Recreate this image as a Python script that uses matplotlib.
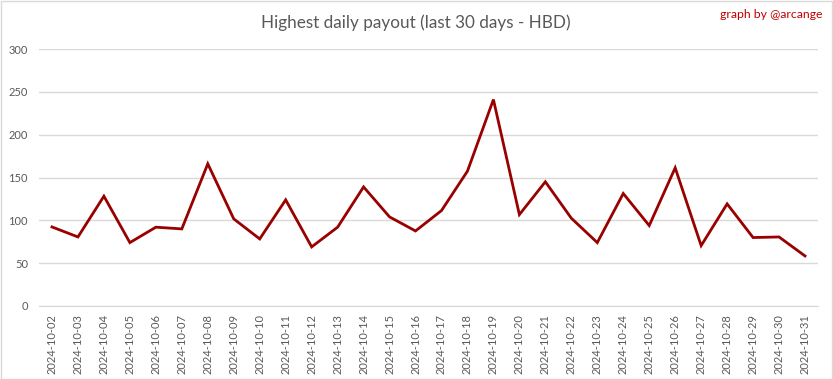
import matplotlib
matplotlib.use("Agg")
import matplotlib.pyplot as plt
from matplotlib.patches import Rectangle

dates = ["2024-10-%02d" % d for d in range(2, 32)]
payout = [92.3, 80.6, 128.2, 74.0, 92.0, 90.0, 166.0, 101.7, 78.3, 123.9,
          69.0, 92.0, 139.0, 104.0, 87.6, 111.4, 157.4, 241.0, 106.7, 145.0,
          102.5, 74.0, 131.3, 93.9, 161.3, 70.5, 119.2, 79.9, 80.6, 58.4]
yticks = [0, 50, 100, 150, 200, 250, 300]

plt.rcParams['font.family'] = ['Lato', 'DejaVu Sans']

W, H = 833, 379
fig = plt.figure(figsize=(W / 100, H / 100), dpi=100)
fig.patch.set_facecolor('white')
fig.patches.append(Rectangle((0.5 / W, 0.5 / H), 1 - 1.5 / W, 1 - 1.5 / H,
                             transform=fig.transFigure, fill=False,
                             edgecolor='#d9d9d9', linewidth=1))

ax = fig.add_axes([39 / W, (H - 306) / H, (818 - 39) / W, (306 - 49) / H])
x = list(range(len(dates)))
ax.plot(x, payout, color='#990000', linewidth=2, solid_joinstyle='miter')
ax.set_xlim(-0.5, len(dates) - 0.5)
ax.set_ylim(0, 300)
ax.set_yticks(yticks)
ax.set_yticklabels([str(v) for v in yticks])
ax.set_xticks(x)
ax.set_xticklabels(dates, rotation=90)
ax.grid(axis='y', color='#d9d9d9', linewidth=1)
ax.set_axisbelow(True)
for s in ['top', 'right', 'left']:
    ax.spines[s].set_visible(False)
ax.spines['bottom'].set_color('#d9d9d9')
ax.tick_params(axis='both', length=0, colors='#595959', labelsize=8)
ax.tick_params(axis='y', pad=8)
ax.tick_params(axis='x', pad=6)

fig.text(416 / W, 1 - 23 / H, "Highest daily payout (last 30 days - HBD)",
         ha='center', va='center', fontsize=12.3, color='#595959')
fig.text(822 / W, 1 - 15 / H, "graph by @arcange", ha='right', va='center',
         fontsize=8.8, color='#c00000')

fig.savefig("out.png", dpi=100, facecolor='white')
